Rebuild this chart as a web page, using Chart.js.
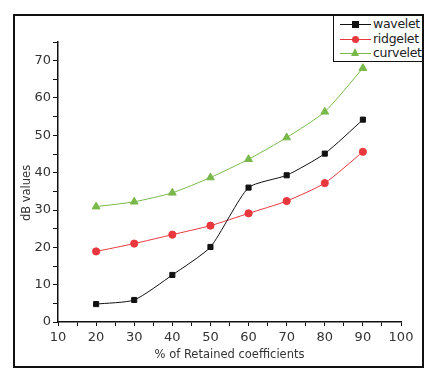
<!DOCTYPE html>
<html>
<head>
<meta charset="utf-8">
<script src="https://cdn.jsdelivr.net/npm/chart.js@4"></script>
<style>
  body { margin: 0; background: #fff; }
  #wrap { position: relative; width: 435px; height: 384px; }
  #frame {
    position: absolute; left: 13px; top: 14px; width: 407px; height: 350px;
    border: 2px solid #111; pointer-events: none;
  }
  #legend {
    position: absolute; left: 333px; top: 15px; width: 88px; height: 45px;
    border: 1px solid #111; background: #fff;
    font-family: "DejaVu Sans", sans-serif; font-size: 12.5px; color: #222;
  }
  .row { position: absolute; left: 0; height: 14px; width: 88px; }
  .line { position: absolute; left: 6px; top: 7px; width: 31px; height: 0; border-top: 1px solid; }
  .mk { position: absolute; }
  .txt { position: absolute; left: 39px; top: -1px; letter-spacing: -0.3px; }
</style>
</head>
<body>
<div id="wrap">
  <canvas id="chart" width="435" height="384"></canvas>
  <div id="frame"></div>
  <div id="legend"></div>
</div>
<script>
/* =========================
   DATOS
========================= */
const retained = [20, 30, 40, 50, 60, 70, 80, 90];
const wavelet = [4.8, 5.9, 12.6, 20.1, 36.0, 39.3, 45.1, 54.2];
const ridgelet = [18.9, 21.0, 23.4, 25.8, 29.1, 32.4, 37.2, 45.6];
const curvelet = [30.9, 32.2, 34.6, 38.7, 43.6, 49.4, 56.3, 68.0];
const seriesNames = ["wavelet", "ridgelet", "curvelet"];
const xTicks = [10, 20, 30, 40, 50, 60, 70, 80, 90, 100];
const yTicks = [0, 10, 20, 30, 40, 50, 60, 70];

const colors = ["#111111", "#e8383d", "#78b94a"];
const shapes = ["rect", "circle", "triangle"];

function pts(ys) {
    return retained.map((x, i) => ({ x: x, y: ys[i] }));
}

/* =========================
   GRAFICA
========================= */
const axisFont = { family: "DejaVu Sans", size: 13 };
const titleFont = { family: "DejaVu Sans", size: 11.5 };

new Chart(document.getElementById("chart"), {
    type: "line",
    data: {
        datasets: [wavelet, ridgelet, curvelet].map((ys, i) => ({
            label: seriesNames[i],
            data: pts(ys),
            borderColor: colors[i],
            backgroundColor: colors[i],
            borderWidth: 1,
            pointStyle: shapes[i],
            pointRadius: i === 2 ? 4.5 : 3.6,
            tension: 0.2
        }))
    },
    options: {
        responsive: false,
        animation: false,
        layout: { padding: { left: 14, top: 42, right: 34, bottom: 22 } },
        plugins: { legend: { display: false }, tooltip: { enabled: false } },
        scales: {
            x: {
                type: "linear",
                min: xTicks[0],
                max: xTicks[xTicks.length - 1],
                afterFit: s => { s.height = 40; },
                ticks: {
                    stepSize: 5,
                    autoSkip: false,
                    maxRotation: 0,
                    padding: 4,
                    color: "#333",
                    font: axisFont,
                    callback: v => xTicks.includes(v) ? v : ""
                },
                grid: {
                    drawOnChartArea: false,
                    tickLength: 4,
                    tickColor: "#111",
                    tickWidth: 1
                },
                border: { color: "#111", width: 1.5 },
                title: {
                    display: true,
                    text: "% of Retained coefficients",
                    color: "#333",
                    font: titleFont,
                    padding: { top: 0, bottom: 0 }
                }
            },
            y: {
                min: 0,
                max: 75,
                afterFit: s => { s.width = 44; },
                ticks: {
                    stepSize: 5,
                    autoSkip: false,
                    padding: 2,
                    color: "#333",
                    font: axisFont,
                    callback: v => yTicks.includes(v) ? v : ""
                },
                grid: {
                    drawOnChartArea: false,
                    tickLength: 5,
                    tickColor: "#111",
                    tickWidth: 1
                },
                border: { color: "#111", width: 1.5 },
                title: {
                    display: true,
                    text: "dB values      ",
                    color: "#333",
                    font: titleFont,
                    padding: { top: 6, bottom: 0 }
                }
            }
        }
    }
});

/* =========================
   LEYENDA
========================= */
const legend = document.getElementById("legend");
seriesNames.forEach((name, i) => {
    const row = document.createElement("div");
    row.className = "row";
    row.style.top = (1 + i * 14.5) + "px";
    let mk;
    if (shapes[i] === "triangle") {
        mk = `<div class="mk" style="left:17px;top:2px;width:0;height:0;border-left:4.5px solid transparent;border-right:4.5px solid transparent;border-bottom:8px solid ${colors[i]}"></div>`;
    } else {
        const r = shapes[i] === "circle" ? "50%" : "0";
        mk = `<div class="mk" style="left:18px;top:4px;width:7px;height:7px;border-radius:${r};background:${colors[i]}"></div>`;
    }
    row.innerHTML = `<div class="line" style="border-color:${colors[i]}"></div>${mk}<span class="txt">${name}</span>`;
    legend.appendChild(row);
});
</script>
</body>
</html>
